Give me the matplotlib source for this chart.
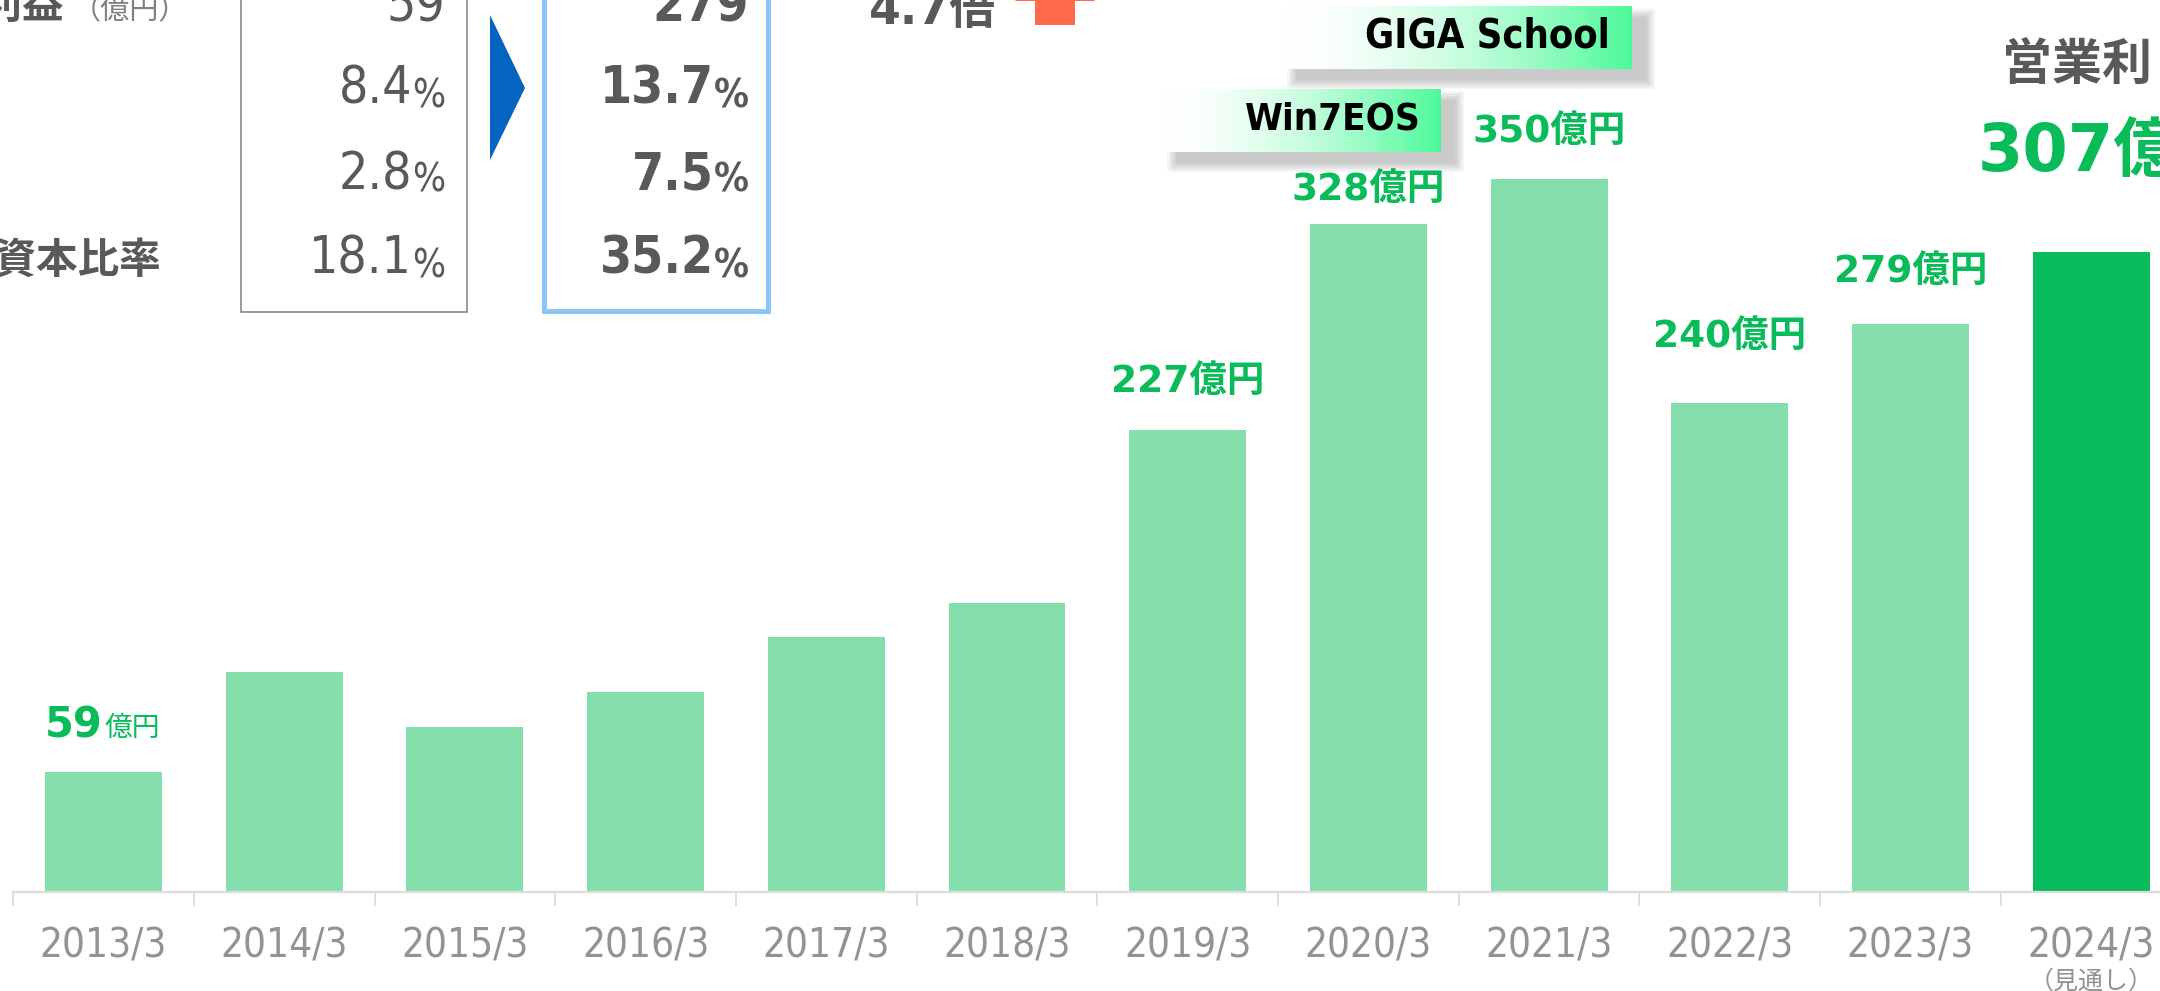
import numpy as np
import matplotlib.pyplot as plt
from matplotlib.patches import Rectangle, Polygon

plt.rcParams['font.family'] = ['DejaVu Sans', 'Noto Sans CJK JP']

# operating profit (億円), fiscal years ending March
years = ['2013/3', '2014/3', '2015/3', '2016/3', '2017/3', '2018/3',
         '2019/3', '2020/3', '2021/3', '2022/3', '2023/3', '2024/3']
profit = [59, 108, 81, 98, 125, 142, 227, 328, 350, 240, 279, 314]
show_label = [True, False, False, False, False, False, True, True, True, True, True, False]
label_gap = [34, 0, 0, 0, 0, 0, 38, 24, 37, 56, 42, 0]   # px above bar top

# small comparison table (cut off at top-left of slide)
row_names = ['営業利益', '', '', '自己資本比率']
before_vals = ['59', '8.4', '2.8', '18.1']
after_vals = ['279', '13.7', '7.5', '35.2']
row_units = ['', '%', '%', '%']

GRAY = '#595959'
GREEN = '#0abb5a'
LIGHT = '#84dfad'
DARK = '#08bb5c'
TICK = '#939393'

W, H = 2160, 991
fig = plt.figure(figsize=(W / 100, H / 100), dpi=100)

# main bar axes (right end runs past the slide edge)
step = 180.7
left = 103.5 - step / 2
ax = fig.add_axes([left / W, (H - 892) / H, 12 * step / W, 892 / H])
x = np.arange(len(years))
bw = 0.647
colors = [LIGHT] * (len(years) - 1) + [DARK]
ax.bar(x, profit, width=bw, color=colors, zorder=2)
ax.set_xlim(-0.5, 11.5)
ax.set_ylim(0, 350 * 892 / 713)
for s in ['top', 'right', 'left']:
    ax.spines[s].set_visible(False)
ax.spines['bottom'].set_color('#dcdcdc')
ax.spines['bottom'].set_linewidth(1.6)
ax.set_yticks([])
ax.set_xticks(x, years)
ax.set_xticks(np.arange(-0.5, 12, 1), minor=True)
ax.tick_params(axis='x', which='major', length=0, pad=25, labelsize=29, labelcolor=TICK)
ax.tick_params(axis='x', which='minor', length=10, width=1.3, color='#dcdcdc')
for t in ax.get_xticklabels():
    t.set_fontstretch('condensed')
ax.text(11, -0.1, '（見通し）', transform=ax.get_xaxis_transform(), ha='center', va='center',
        fontsize=18, color=TICK, family='Noto Sans CJK JP')

# value labels
for i, v in enumerate(profit):
    if not show_label[i]:
        continue
    if i == 0:
        ax.annotate(f'{v}', xy=(x[i] - bw / 2, v), xytext=(0, label_gap[i]), textcoords='offset pixels',
                    ha='left', va='baseline', fontsize=30, fontweight='bold', color=GREEN)
        ax.annotate('億円', xy=(x[i] - bw / 2, v), xytext=(59, label_gap[i] + 2), textcoords='offset pixels',
                    ha='left', va='baseline', fontsize=20, color=GREEN, family='Noto Sans CJK JP')
    else:
        ax.annotate(f'{v}億円', xy=(x[i], v), xytext=(0, label_gap[i]), textcoords='offset pixels',
                    ha='center', va='baseline', fontsize=27, fontweight='bold', color=GREEN)

# overlay in slide pixels for the decorations
ov = fig.add_axes([0, 0, 1, 1])
ov.patch.set_alpha(0)
ov.axis('off')


def tag(x0, x1, y0, y1, text, tx, ty, size):
    for k in range(7):
        ov.add_patch(Rectangle((x0 + 14 - k * 1.5, y0 + 11 - k * 1.5), x1 - x0 + k * 3, y1 - y0 + k * 3,
                               color='black', alpha=0.03, lw=0, zorder=3))
    t = np.linspace(0, 1, 256) ** 1.7
    c0 = np.array([1.0, 1.0, 1.0])
    c1 = np.array([0.30, 0.98, 0.60])
    grad = (c0 + (c1 - c0) * t[:, None])[None, :, :]
    ov.imshow(grad, extent=(x0, x1, y1, y0), aspect='auto', zorder=4, interpolation='bilinear')
    ov.text(tx, ty, text, ha='right', va='baseline', fontsize=size, fontweight='bold',
            fontstretch='condensed', color='black', zorder=5)


tag(1282, 1632, 6, 69, 'GIGA School', 1610, 47, 28.5)
tag(1162, 1441, 89, 152, 'Win7EOS', 1421, 130, 27.5)

# table boxes and arrow
ov.add_patch(Rectangle((241, -20), 226, 332, fill=False, ec='#808080', lw=1.1))
ov.add_patch(Rectangle((543.5, -20), 224, 330.5, fill=False, ec='#8ec5f8', lw=3.6))
ov.add_patch(Polygon([(490, 15), (525, 88), (490, 160)], closed=True, color='#0563c1', lw=0))

baselines = [22, 107, 192, 277]
for r in range(4):
    y = baselines[r]
    for vals, xr, wt in [(before_vals, 445, 'normal'), (after_vals, 749, 'bold')]:
        if row_units[r]:
            p = ov.text(xr, y, row_units[r], ha='right', va='baseline', fontsize=28,
                        fontweight=wt, fontstretch='condensed', color=GRAY)
            ov.annotate(vals[r], xy=(0, 0), xycoords=p, ha='right', va='bottom',
                        fontsize=37, fontweight=wt, fontstretch='condensed', color=GRAY)
        else:
            ov.text(xr, y, vals[r], ha='right', va='baseline', fontsize=37,
                    fontweight=wt, fontstretch='condensed', color=GRAY)
    if row_names[r]:
        ov.text(161 if r == 3 else 64, y - 4, row_names[r], ha='right', va='baseline', fontsize=30,
                fontweight='bold', color=GRAY, family='Noto Sans CJK JP')
ov.text(72, 19, '（億円）', ha='left', va='baseline', fontsize=21, color='#808080', family='Noto Sans CJK JP')

# growth multiple and arrow
ov.text(996, 24, '4.7倍', ha='right', va='baseline', fontsize=33, fontweight='bold', color=GRAY)
ov.add_patch(Polygon([(1035, 25), (1075, 25), (1075, 1), (1095, 1), (1055, -40), (1015, 1), (1035, 1)],
                     closed=True, color='#ff6a4d', lw=0))

# forecast callout on the right
ov.text(2002, 80, '営業利', ha='left', va='baseline', fontsize=36, fontweight='bold', color=GRAY,
        family='Noto Sans CJK JP', clip_on=True)
ov.text(1978, 172, '307億', ha='left', va='baseline', fontsize=47, fontweight='bold', color=GREEN,
        clip_on=True)

ov.set_xlim(0, W)
ov.set_ylim(H, 0)

fig.savefig('out.png', dpi=100)
